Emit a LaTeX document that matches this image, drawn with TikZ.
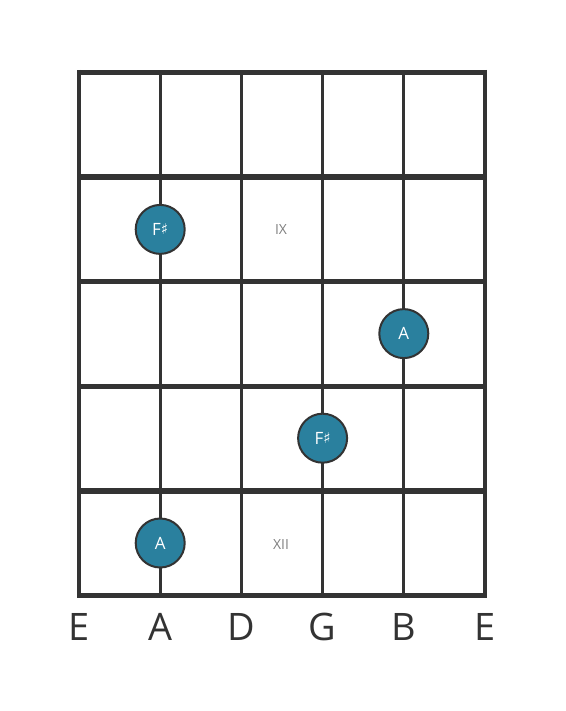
\documentclass[tikz,border=0pt]{standalone}
\usepackage{fontspec}
\setmainfont{Open Sans}
\newfontfamily\symfont{DejaVu Sans}
\definecolor{gridcol}{HTML}{333333}
\definecolor{dotcol}{HTML}{2A809E}
\definecolor{romcol}{HTML}{808080}
\tikzset{
  fret/.style={gridcol, line width=5.5bp},
  string/.style={gridcol, line width=3bp},
  note/.style={circle, draw=gridcol, line width=2bp, fill=dotcol, minimum size=49bp,
    inner sep=0pt, text=white, font=\fontsize{17}{17}\selectfont},
  roman/.style={text=romcol, font=\fontsize{14}{14}\selectfont},
  strname/.style={anchor=base, text=gridcol, font=\fontsize{38}{38}\selectfont},
}
\newcommand{\shp}{{\symfont\fontsize{15}{15}\selectfont\raisebox{0.5bp}{♯}}}
\begin{document}
\begin{tikzpicture}[x=1bp,y=1bp,yscale=-1,xscale=1]
\useasboundingbox (0,0) rectangle (566,711);
% strings
\foreach \x in {160.2,241.4,322.6,403.8}
  \draw[string] (\x,72.5) -- (\x,595.5);
\draw[gridcol, line width=4bp] (79,70) -- (79,598);
\draw[gridcol, line width=4bp] (485,70) -- (485,598);
% frets
\foreach \y in {72.5,177.1,281.7,386.3,490.9,595.5}
  \draw[fret] (77,\y) -- (487,\y);
% position marks
\node[roman] (nine) at (281,230) {IX};
\node[roman] (twelve) at (281,545) {XII};
% fingered notes
\node[note] (fsa) at (160.2,229.4) {F\shp};
\node[note] (ab) at (403.8,333.6) {A};
\node[note] (fsg) at (322.6,438.2) {F\shp};
\node[note] (aa) at (160.2,543) {A};
% string names
\node[strname] (lowe) at (79,640) {E};
\node[strname] (stra) at (160.2,640) {A};
\node[strname] (strd) at (241.4,640) {D};
\node[strname] (strg) at (322.6,640) {G};
\node[strname] (strb) at (403.8,640) {B};
\node[strname] (highe) at (485,640) {E};
\end{tikzpicture}
\end{document}
